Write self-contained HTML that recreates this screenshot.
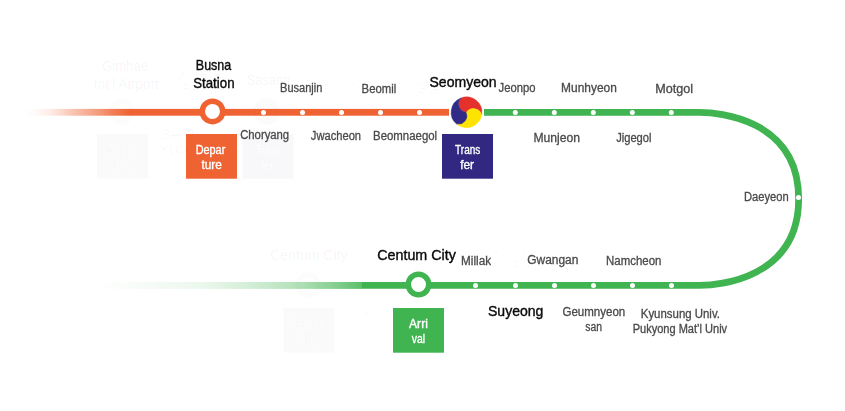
<!DOCTYPE html>
<html><head><meta charset="utf-8"><style>
html,body{margin:0;padding:0;background:#fff;}
svg{display:block;font-family:"Liberation Sans",sans-serif;}
#texts{will-change:transform;}
</style></head><body>
<svg width="845" height="411" viewBox="0 0 845 411">

<defs>
 <linearGradient id="gO" gradientUnits="userSpaceOnUse" x1="24" y1="0" x2="130" y2="0">
  <stop offset="0.0000" stop-color="#EF6232" stop-opacity="0"/>
  <stop offset="0.1038" stop-color="#EF6232" stop-opacity="0.03"/>
  <stop offset="0.2453" stop-color="#EF6232" stop-opacity="0.12"/>
  <stop offset="0.3396" stop-color="#EF6232" stop-opacity="0.22"/>
  <stop offset="0.4340" stop-color="#EF6232" stop-opacity="0.35"/>
  <stop offset="0.5283" stop-color="#EF6232" stop-opacity="0.45"/>
  <stop offset="0.7170" stop-color="#EF6232" stop-opacity="0.66"/>
  <stop offset="0.8585" stop-color="#EF6232" stop-opacity="0.85"/>
  <stop offset="1.0000" stop-color="#EF6232" stop-opacity="1"/>
 </linearGradient>
 <linearGradient id="gG" gradientUnits="userSpaceOnUse" x1="96" y1="0" x2="362" y2="0">
  <stop offset="0.0000" stop-color="#40B450" stop-opacity="0"/>
  <stop offset="0.2030" stop-color="#40B450" stop-opacity="0.05"/>
  <stop offset="0.3910" stop-color="#40B450" stop-opacity="0.1"/>
  <stop offset="0.5414" stop-color="#40B450" stop-opacity="0.2"/>
  <stop offset="0.6541" stop-color="#40B450" stop-opacity="0.3"/>
  <stop offset="0.7669" stop-color="#40B450" stop-opacity="0.42"/>
  <stop offset="0.8797" stop-color="#40B450" stop-opacity="0.6"/>
  <stop offset="1.0000" stop-color="#40B450" stop-opacity="0.85"/>
 </linearGradient>
</defs>

<g id="shapes">
<g id="ghost">
 <g fill="#000" fill-opacity="0.05" font-size="15">
  <text x="102" y="71" textLength="46" lengthAdjust="spacingAndGlyphs">Gimhae</text>
  <text x="93.8" y="89" textLength="65" lengthAdjust="spacingAndGlyphs">Int’l Airport</text>
  <text x="246.8" y="85" textLength="43.5" lengthAdjust="spacingAndGlyphs">Sasang</text>
  <text x="270.2" y="260" textLength="77.4" lengthAdjust="spacingAndGlyphs">Centum City</text>
 </g>
 <g fill="#000" fill-opacity="0.03" font-size="12">
  <text x="176.6" y="78" textLength="55" lengthAdjust="spacingAndGlyphs">Gwaebeop</text>
  <text x="182.9" y="93" textLength="41.7" lengthAdjust="spacingAndGlyphs">Renecite</text>
  <text x="159.8" y="139" textLength="50" lengthAdjust="spacingAndGlyphs">Seobu</text>
  <text x="158" y="153" textLength="55" lengthAdjust="spacingAndGlyphs">Yutong</text>
  <text x="349.6" y="93" textLength="12" lengthAdjust="spacingAndGlyphs">Ju</text>
  <text x="417" y="93" textLength="30" lengthAdjust="spacingAndGlyphs">Goeg</text>
  <text x="346" y="317" textLength="29" lengthAdjust="spacingAndGlyphs">Millak</text>
  <text x="456.6" y="255" textLength="53.2" lengthAdjust="spacingAndGlyphs">Geumnyeon</text>
  <text x="470.8" y="270" textLength="15.4" lengthAdjust="spacingAndGlyphs">san</text>
  <text x="521.7" y="255" textLength="76.9" lengthAdjust="spacingAndGlyphs">Kyungsung Univ.</text>
  <text x="513.4" y="270" textLength="94.6" lengthAdjust="spacingAndGlyphs">Pukyong Nat’l Univ</text>
 </g>
 <g fill="none" stroke="#000" stroke-opacity="0.012" stroke-width="5.5">
  <circle cx="121.9" cy="111.5" r="10.25"/>
  <circle cx="308.2" cy="285.3" r="10.25"/>
 </g>
 <circle cx="266.9" cy="111.5" r="13.6" fill="#000" fill-opacity="0.015"/>
 <rect x="97" y="134" width="51" height="44.7" fill="#000" fill-opacity="0.02"/>
 <rect x="242.5" y="134" width="51" height="44.7" fill="#1a1a80" fill-opacity="0.03"/>
 <rect x="283.4" y="308" width="51" height="44.7" fill="#000" fill-opacity="0.02"/>
<g fill="#fff" font-size="12" stroke="#000" stroke-opacity="0.035" stroke-width="1.2" paint-order="stroke">
  <text x="107.5" y="154" textLength="29" lengthAdjust="spacingAndGlyphs">Depar</text>
  <text x="112.5" y="169" textLength="19" lengthAdjust="spacingAndGlyphs">ture</text>
  <text x="255.6" y="154" textLength="24.8" lengthAdjust="spacingAndGlyphs">Trans</text>
  <text x="261" y="169" textLength="13" lengthAdjust="spacingAndGlyphs">fer</text>
  <text x="290" y="328" textLength="38" lengthAdjust="spacingAndGlyphs">Centum</text>
  <text x="299" y="343" textLength="20" lengthAdjust="spacingAndGlyphs">City</text>
 </g>
</g>

 <rect x="24" y="108.9" width="106" height="6.8" fill="url(#gO)"/>
 <rect x="130" y="108.9" width="319" height="6.8" fill="#EF6232"/>
 <rect x="96" y="282" width="266" height="6.9" fill="url(#gG)"/>
 <path d="M484 112.3 H699.2 C717.96 112.3 798.67 118.59 798.67 198.85 C798.67 279.11 717.96 285.4 699.2 285.4 H362" fill="none" stroke="#40B450" stroke-width="6.8"/>
 <circle cx="212.5" cy="111.4" r="10.25" fill="#fff" stroke="#EF6232" stroke-width="5.5"/>
 <circle cx="418.5" cy="284.5" r="10.25" fill="#fff" stroke="#40B450" stroke-width="5.5"/>
 <g fill="#fff">
  <circle cx="263.5" cy="112.4" r="2.5"/><circle cx="302.5" cy="112.4" r="2.5"/><circle cx="341.5" cy="112.4" r="2.5"/><circle cx="380.5" cy="112.4" r="2.5"/><circle cx="419.5" cy="112.4" r="2.5"/><circle cx="515.3" cy="112.4" r="2.5"/><circle cx="554.3" cy="112.4" r="2.5"/><circle cx="593.3" cy="112.4" r="2.5"/><circle cx="632.3" cy="112.4" r="2.5"/><circle cx="671.3" cy="112.4" r="2.5"/>
  <circle cx="475.5" cy="285.5" r="2.5"/><circle cx="515.5" cy="285.5" r="2.5"/><circle cx="554.5" cy="285.5" r="2.5"/><circle cx="593.5" cy="285.5" r="2.5"/><circle cx="632.5" cy="285.5" r="2.5"/><circle cx="671.5" cy="285.5" r="2.5"/>
  <circle cx="798.5" cy="197.4" r="2.5"/>
 </g>
 <rect x="186" y="134" width="51" height="44.7" fill="#EF6232"/>
 <rect x="442" y="134" width="51" height="44.7" fill="#322882"/>
 <rect x="393" y="308" width="51" height="44.7" fill="#40B450"/>
 <g id="tg" transform="translate(466.5 112.3)"><path d="M15.21,2.41 A15.4,15.4 0 0 0 -5.52,-14.38 A8.50,8.50 0 0 0 0,0 A8.50,8.50 0 0 1 15.21,2.41 Z" fill="#E5312C" stroke="#E5312C" stroke-width="0.4" stroke-linejoin="round"/><path d="M-5.52,-14.38 A15.4,15.4 0 0 0 -9.69,11.97 A8.50,8.50 0 0 0 0,0 A8.50,8.50 0 0 1 -5.52,-14.38 Z" fill="#312A86" stroke="#312A86" stroke-width="0.4" stroke-linejoin="round"/><path d="M-9.69,11.97 A15.4,15.4 0 0 0 15.21,2.41 A8.50,8.50 0 0 0 0,0 A8.50,8.50 0 0 1 -9.69,11.97 Z" fill="#FDE400" stroke="#FDE400" stroke-width="0.4" stroke-linejoin="round"/></g>
</g>

<g id="texts">
<text id="t0" x="195.87" y="70.00" font-size="15.00" fill="#0a0a0a" stroke="#0a0a0a" stroke-width="0.4" textLength="35.39" lengthAdjust="spacingAndGlyphs">Busna</text>
<text id="t1" x="193.22" y="88.00" font-size="15.00" fill="#0a0a0a" stroke="#0a0a0a" stroke-width="0.4" textLength="41.29" lengthAdjust="spacingAndGlyphs">Station</text>
<text id="t2" x="429.48" y="87.00" font-size="15.00" fill="#0a0a0a" stroke="#0a0a0a" stroke-width="0.4" textLength="67.10" lengthAdjust="spacingAndGlyphs">Seomyeon</text>
<text id="t3" x="377.20" y="260.00" font-size="15.00" fill="#0a0a0a" stroke="#0a0a0a" stroke-width="0.4" textLength="78.70" lengthAdjust="spacingAndGlyphs">Centum City</text>
<text id="t4" x="487.98" y="316.00" font-size="15.00" fill="#0a0a0a" stroke="#0a0a0a" stroke-width="0.4" textLength="55.38" lengthAdjust="spacingAndGlyphs">Suyeong</text>
<text id="t5" x="280.07" y="92.00" font-size="12.00" fill="#4a4a4a" stroke="#4a4a4a" stroke-width="0.3" textLength="42.19" lengthAdjust="spacingAndGlyphs">Busanjin</text>
<text id="t6" x="361.59" y="93.00" font-size="12.00" fill="#4a4a4a" stroke="#4a4a4a" stroke-width="0.3" textLength="34.65" lengthAdjust="spacingAndGlyphs">Beomil</text>
<text id="t7" x="498.62" y="92.00" font-size="12.00" fill="#4a4a4a" stroke="#4a4a4a" stroke-width="0.3" textLength="36.88" lengthAdjust="spacingAndGlyphs">Jeonpo</text>
<text id="t8" x="561.12" y="92.00" font-size="12.00" fill="#4a4a4a" stroke="#4a4a4a" stroke-width="0.3" textLength="55.69" lengthAdjust="spacingAndGlyphs">Munhyeon</text>
<text id="t9" x="655.16" y="93.00" font-size="12.00" fill="#4a4a4a" stroke="#4a4a4a" stroke-width="0.3" textLength="37.80" lengthAdjust="spacingAndGlyphs">Motgol</text>
<text id="t10" x="240.17" y="139.00" font-size="12.00" fill="#4a4a4a" stroke="#4a4a4a" stroke-width="0.3" textLength="48.97" lengthAdjust="spacingAndGlyphs">Choryang</text>
<text id="t11" x="310.82" y="140.00" font-size="12.00" fill="#4a4a4a" stroke="#4a4a4a" stroke-width="0.3" textLength="50.24" lengthAdjust="spacingAndGlyphs">Jwacheon</text>
<text id="t12" x="373.07" y="140.00" font-size="12.00" fill="#4a4a4a" stroke="#4a4a4a" stroke-width="0.3" textLength="64.05" lengthAdjust="spacingAndGlyphs">Beomnaegol</text>
<text id="t13" x="533.43" y="142.00" font-size="12.00" fill="#4a4a4a" stroke="#4a4a4a" stroke-width="0.3" textLength="46.67" lengthAdjust="spacingAndGlyphs">Munjeon</text>
<text id="t14" x="616.14" y="142.00" font-size="12.00" fill="#4a4a4a" stroke="#4a4a4a" stroke-width="0.3" textLength="35.36" lengthAdjust="spacingAndGlyphs">Jigegol</text>
<text id="t15" x="744.00" y="201.00" font-size="12.00" fill="#4a4a4a" stroke="#4a4a4a" stroke-width="0.3" textLength="44.66" lengthAdjust="spacingAndGlyphs">Daeyeon</text>
<text id="t16" x="461.07" y="265.00" font-size="12.00" fill="#4a4a4a" stroke="#4a4a4a" stroke-width="0.3" textLength="29.96" lengthAdjust="spacingAndGlyphs">Millak</text>
<text id="t17" x="527.29" y="264.00" font-size="12.00" fill="#4a4a4a" stroke="#4a4a4a" stroke-width="0.3" textLength="51.13" lengthAdjust="spacingAndGlyphs">Gwangan</text>
<text id="t18" x="606.09" y="265.00" font-size="12.00" fill="#4a4a4a" stroke="#4a4a4a" stroke-width="0.3" textLength="55.39" lengthAdjust="spacingAndGlyphs">Namcheon</text>
<text id="t19" x="562.48" y="316.00" font-size="12.00" fill="#4a4a4a" stroke="#4a4a4a" stroke-width="0.3" textLength="62.82" lengthAdjust="spacingAndGlyphs">Geumnyeon</text>
<text id="t20" x="585.37" y="331.00" font-size="12.00" fill="#4a4a4a" stroke="#4a4a4a" stroke-width="0.3" textLength="16.75" lengthAdjust="spacingAndGlyphs">san</text>
<text id="t21" x="640.80" y="318.00" font-size="12.00" fill="#4a4a4a" stroke="#4a4a4a" stroke-width="0.3" textLength="79.14" lengthAdjust="spacingAndGlyphs">Kyunsung Univ.</text>
<text id="t22" x="632.65" y="333.00" font-size="12.00" fill="#4a4a4a" stroke="#4a4a4a" stroke-width="0.3" textLength="94.47" lengthAdjust="spacingAndGlyphs">Pukyong Mat’l Univ</text>
<text id="t23" x="195.66" y="154.00" font-size="12.00" fill="#fff" stroke="#fff" stroke-width="0.35" textLength="29.63" lengthAdjust="spacingAndGlyphs">Depar</text>
<text id="t24" x="201.43" y="169.00" font-size="12.00" fill="#fff" stroke="#fff" stroke-width="0.35" textLength="20.53" lengthAdjust="spacingAndGlyphs">ture</text>
<text id="t25" x="455.10" y="154.00" font-size="12.00" fill="#fff" stroke="#fff" stroke-width="0.35" textLength="25.24" lengthAdjust="spacingAndGlyphs">Trans</text>
<text id="t26" x="460.23" y="169.00" font-size="12.00" fill="#fff" stroke="#fff" stroke-width="0.35" textLength="13.84" lengthAdjust="spacingAndGlyphs">fer</text>
<text id="t27" x="409.08" y="328.00" font-size="12.00" fill="#fff" stroke="#fff" stroke-width="0.35" textLength="18.75" lengthAdjust="spacingAndGlyphs">Arri</text>
<text id="t28" x="411.77" y="343.00" font-size="12.00" fill="#fff" stroke="#fff" stroke-width="0.35" textLength="13.33" lengthAdjust="spacingAndGlyphs">val</text>
</g>
</svg>
</body></html>
